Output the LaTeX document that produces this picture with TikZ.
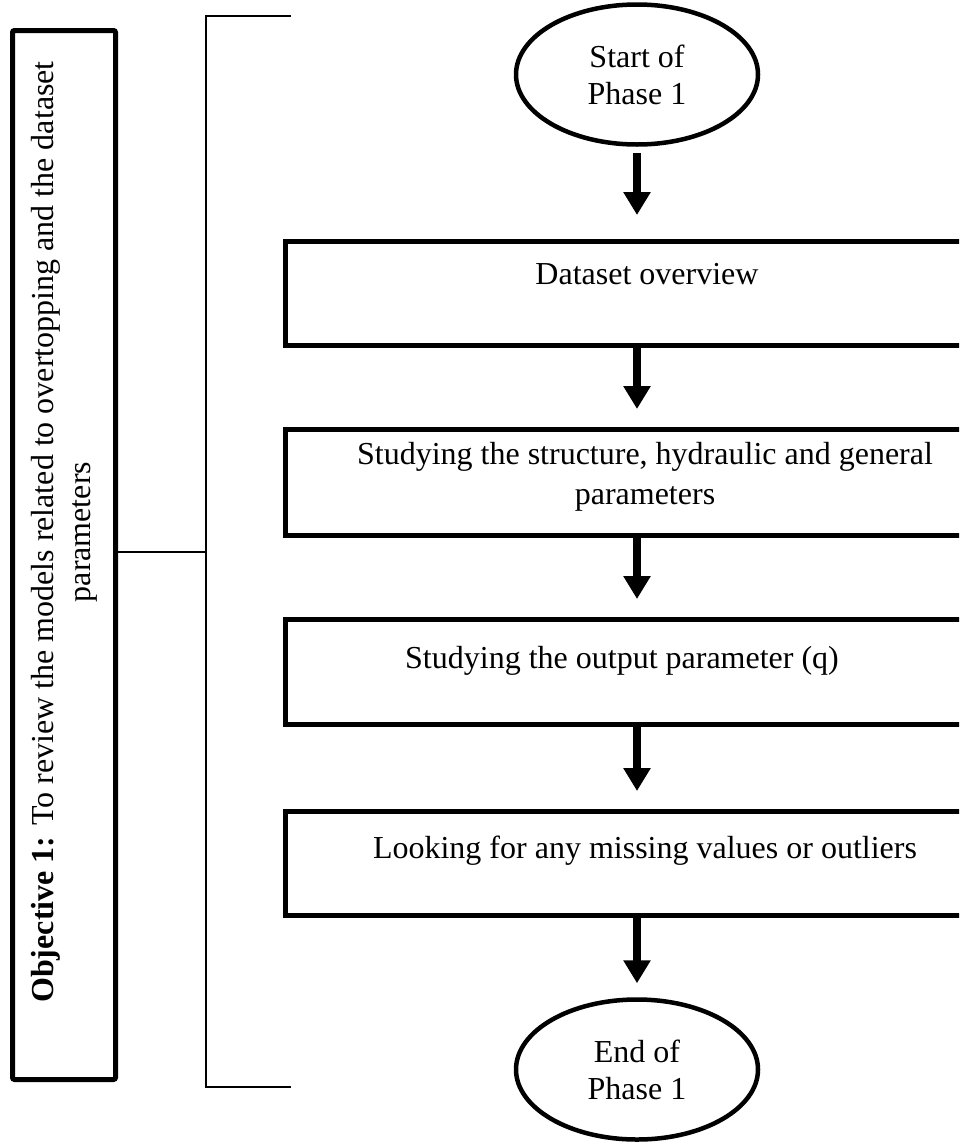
\documentclass[tikz,border=0pt]{standalone}
\usepackage{fontspec}
\setmainfont{Liberation Serif}
\usetikzlibrary{shapes.geometric,arrows.meta}
\begin{document}
\begin{tikzpicture}[x=1pt,y=-1pt,
  every node/.style={font=\fontsize{32}{37}\selectfont},
  terminal/.style={ellipse, draw, line width=4.5pt, minimum width=242pt,
    minimum height=140pt, inner sep=0pt, align=center},
  stepbox/.style={draw, line width=5pt, rectangle, anchor=north west,
    inner sep=0pt, minimum width=725pt},
  boxtext/.style={anchor=base, inner sep=0pt},
  flow/.style={line width=8pt, -{Triangle[width=26pt,length=23pt]},
    shorten >=18pt},
  bracket/.style={line width=2pt},
]
\useasboundingbox (0,0) rectangle (959,1146);
\clip (0,0) rectangle (959,1146);

% objective panel on the left
\node[draw, line width=5pt, rounded corners=2pt, inner sep=0pt,
      minimum width=103pt, minimum height=1049pt] (objbox) at (64,555) {};
\node[rotate=90, align=center, inner sep=0pt] (objtext) at (64,532)
  {\textbf{Objective 1:} To review the models related to overtopping and the dataset\\parameters};

% bracket joining the panel to the phase
\coordinate (brk) at (206,552);
\coordinate (btop) at (291,16);
\coordinate (bbot) at (291,1087);
\draw[bracket] (objbox.east |- brk) -- (brk);
\draw[bracket] (btop) -- (btop -| brk) -- (bbot -| brk) -- (bbot);

% terminals
\node[terminal] (start) at (637,74.5) {Start of\\Phase 1};
\node[terminal] (end) at (637,1069.5) {End of\\Phase 1};

% process steps
\node[stepbox, minimum height=104pt] (s1) at (283,239) {};
\node[stepbox, minimum height=106pt] (s2) at (283,427) {};
\node[stepbox, minimum height=105pt] (s3) at (283,617) {};
\node[stepbox, minimum height=104pt] (s4) at (283,809) {};

\node[boxtext] (t1) at (647,284) {Dataset overview};
\node[anchor=north, inner sep=0pt, align=center,
      font=\fontsize{32}{40}\selectfont] (t2) at (645,442)
  {Studying the structure, hydraulic and general\\parameters};
\node[boxtext] (t3) at (622,668) {Studying the output parameter (q)};
\node[boxtext] (t4) at (645,858) {Looking for any missing values or outliers};

% flow arrows
\draw[flow, shorten <=6pt, shorten >=24pt] (start.south) -- (start.south |- s1.north);
\draw[flow] (s1.south -| start) -- (s2.north -| start);
\draw[flow] (s2.south -| start) -- (s3.north -| start);
\draw[flow] (s3.south -| start) -- (s4.north -| start);
\draw[flow, shorten >=14pt] (s4.south -| start) -- (end.north);
\end{tikzpicture}
\end{document}
